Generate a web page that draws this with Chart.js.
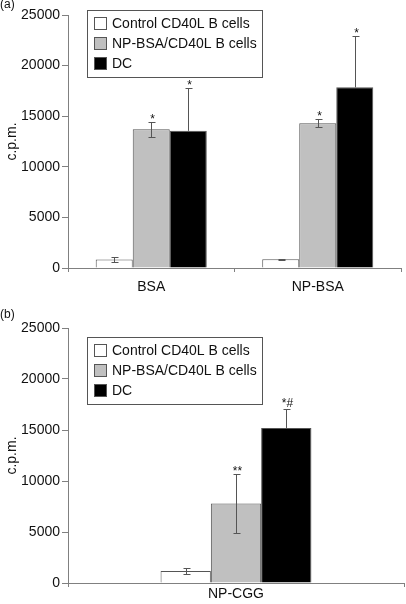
<!DOCTYPE html>
<html>
<head>
<meta charset="utf-8">
<script src="https://cdn.jsdelivr.net/npm/chart.js@4.4.0/dist/chart.umd.min.js"></script>
<style>
  body { margin: 0; background: #fff; }
  #wrap { position: relative; width: 406px; height: 604px; }
  .panel { position: absolute; left: 0; }
  .tag { position: absolute; left: 0; font: 12px "Liberation Sans", Arial, sans-serif; color: #111; }
</style>
</head>
<body>
<div id="wrap">
  <canvas id="chartA" class="panel" width="406" height="300" style="top:0"></canvas>
  <canvas id="chartB" class="panel" width="406" height="304" style="top:300px"></canvas>
  <div class="tag" style="top:-3px">(a)</div>
  <div class="tag" style="top:307px">(b)</div>
</div>
<script>
// series shared by both panels
var seriesNames = ['Control CD40L B cells', 'NP-BSA/CD40L B cells', 'DC'];
var seriesColors = ['#ffffff', '#c0c0c0', '#000000'];
var yTicks = [0, 5000, 10000, 15000, 20000, 25000];

// panel (a)
var categoriesA = ['BSA', 'NP-BSA'];
var controlA = [850, 870];
var controlErrA = [250, 60];
var npbsaA = [13700, 14300];
var npbsaErrA = [750, 400];
var dcA = [13550, 17850];
var dcErrA = [4200, 5100];
var marksA = [['', ''], ['*', '*'], ['*', '*']];

// panel (b)
var categoriesB = ['NP-CGG'];
var controlB = [1180];
var controlErrB = [270];
var npbsaB = [7800];
var npbsaErrB = [2900];
var dcB = [15200];
var dcErrB = [1850];
var marksB = [[''], ['**'], ['*#']];

var FONT = '"Liberation Sans", Arial, Helvetica, sans-serif';

// error bars + significance marks
var errorBarsPlugin = {
  id: 'errorBars',
  afterDatasetsDraw: function(chart, args, opts) {
    var ctx = chart.ctx;
    var ys = chart.scales.y;
    ctx.save();
    ctx.lineWidth = 1;
    ctx.strokeStyle = '#555';
    chart.data.datasets.forEach(function(ds, i) {
      var meta = chart.getDatasetMeta(i);
      var dark = ds.backgroundColor === '#000000';
      meta.data.forEach(function(bar, j) {
        var v = ds.data[j], e = opts.errors[i][j];
        var x = Math.round(bar.x) + 0.5;
        var yT = Math.round(ys.getPixelForValue(v + e)) + 0.5;
        var yV = ys.getPixelForValue(v);
        var yB = Math.round(ys.getPixelForValue(v - e)) + 0.5;
        ctx.beginPath();
        ctx.moveTo(x, yT);
        ctx.lineTo(x, dark ? yV : yB);
        ctx.moveTo(x - 3, yT);
        ctx.lineTo(x + 4, yT);
        if (!dark) {
          ctx.moveTo(x - 3, yB);
          ctx.lineTo(x + 4, yB);
        }
        ctx.stroke();
        var m = opts.marks[i][j];
        if (m) {
          // '#' sits on the baseline, so lift that mark clear of the cap
          var lift = m.indexOf('#') >= 0 ? 3 : 0;
          ctx.fillStyle = '#111';
          ctx.font = '12px ' + FONT;
          ctx.textAlign = 'center';
          ctx.textBaseline = 'alphabetic';
          ctx.fillText(m, x + 1, yT - lift);
        }
      });
    });
    ctx.restore();
  }
};

// boxed legend sitting inside the plot
var boxLegendPlugin = {
  id: 'boxLegend',
  afterDraw: function(chart, args, opts) {
    var ctx = chart.ctx;
    var b = opts.box;
    ctx.save();
    ctx.fillStyle = '#fff';
    ctx.fillRect(b.x, b.y, b.w, b.h);
    ctx.strokeStyle = '#555';
    ctx.lineWidth = 1;
    ctx.strokeRect(b.x + 0.5, b.y + 0.5, b.w, b.h);
    chart.data.datasets.forEach(function(ds, i) {
      var cy = b.y + opts.first + i * opts.step;
      ctx.fillStyle = ds.backgroundColor;
      ctx.fillRect(b.x + 7, cy - 6, 12, 12);
      ctx.strokeStyle = '#555';
      ctx.strokeRect(b.x + 7.5, cy - 5.5, 12, 12);
      ctx.fillStyle = '#111';
      ctx.font = '14px ' + FONT;
      ctx.textAlign = 'left';
      ctx.textBaseline = 'middle';
      ctx.fillText(ds.label, b.x + 25, cy + 1);
    });
    ctx.restore();
  }
};

function makeDatasets(values) {
  return values.map(function(vals, i) {
    return {
      label: seriesNames[i],
      data: vals,
      backgroundColor: seriesColors[i],
      borderColor: '#555',
      borderWidth: 1,
      borderSkipped: 'bottom'
    };
  });
}

function makeChart(id, cats, values, errors, marks, cfg) {
  var ctx = document.getElementById(id).getContext('2d');
  return new Chart(ctx, {
    type: 'bar',
    data: { labels: cats, datasets: makeDatasets(values) },
    plugins: [errorBarsPlugin, boxLegendPlugin],
    options: {
      responsive: false,
      animation: false,
      devicePixelRatio: 1,
      layout: { padding: { left: 0, right: cfg.padRight, top: cfg.padTop, bottom: 0 } },
      datasets: { bar: { categoryPercentage: cfg.catPct, barPercentage: 1.0 } },
      plugins: {
        legend: { display: false },
        tooltip: { enabled: false },
        errorBars: { errors: errors, marks: marks },
        boxLegend: cfg.legend
      },
      scales: {
        x: {
          grid: { offset: true, drawOnChartArea: false, drawTicks: true, tickLength: 4, color: '#808080' },
          border: { display: true, color: '#808080' },
          ticks: { color: '#111', font: { family: FONT, size: 14 }, padding: cfg.xPad, maxRotation: 0 },
          afterFit: function(scale) { scale.height = cfg.xHeight; }
        },
        y: {
          min: 0,
          max: 25000,
          afterBuildTicks: function(scale) {
            scale.ticks = yTicks.map(function(v) { return { value: v }; });
          },
          grid: { drawOnChartArea: false, drawTicks: true, tickLength: 6, color: '#808080' },
          border: { display: true, color: '#808080' },
          ticks: {
            color: '#111',
            font: { family: FONT, size: 14 },
            padding: 2,
            callback: function(v) { return String(v); }
          },
          title: {
            display: true,
            text: 'c.p.m.',
            color: '#111',
            font: { family: FONT, size: 14 },
            padding: { top: 4, bottom: 0 }
          },
          afterFit: function(scale) { scale.width = 68; }
        }
      }
    }
  });
}

makeChart('chartA', categoriesA,
  [controlA, npbsaA, dcA],
  [controlErrA, npbsaErrA, dcErrA],
  marksA,
  { padRight: 5, padTop: 15, catPct: 0.667, xHeight: 32, xPad: 7,
    legend: { box: { x: 87, y: 10, w: 175, h: 67 }, first: 13, step: 20 } });

makeChart('chartB', categoriesB,
  [controlB, npbsaB, dcB],
  [controlErrB, npbsaErrB, dcErrB],
  marksB,
  { padRight: 2, padTop: 28, catPct: 0.449, xHeight: 21, xPad: -1,
    legend: { box: { x: 87, y: 37, w: 175, h: 67 }, first: 13, step: 20 } });
</script>
</body>
</html>
